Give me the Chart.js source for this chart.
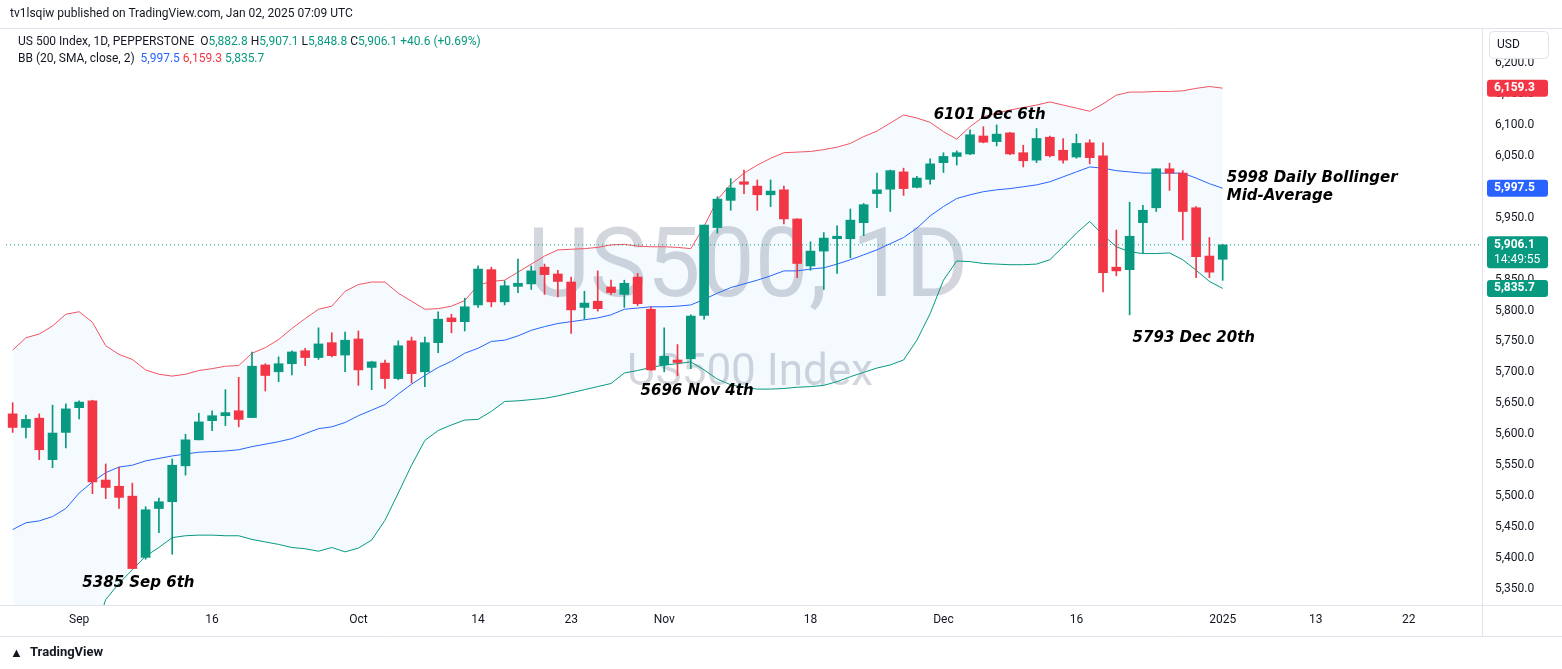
<!DOCTYPE html>
<html>
<head>
<meta charset="utf-8">
<script src="https://cdn.jsdelivr.net/npm/chart.js@4/dist/chart.umd.min.js"></script>
<style>
  body { margin: 0; background: #fff; font-family: Roboto, "Noto Sans", sans-serif; color: #131722; }
  #wrap { position: relative; width: 1562px; height: 669px; overflow: hidden; }
  canvas { position: absolute; left: 0; top: 0; }
  .txt { position: absolute; font-size: 12px; white-space: nowrap; }
  .g { color: #089981; } .r { color: #f23645; } .b { color: #2962ff; }
</style>
</head>
<body>
<div id="wrap">
  <canvas id="c" width="1562" height="669"></canvas>
  <div class="txt" style="left:10px;top:6px;">tv1lsqiw published on TradingView.com, Jan 02, 2025 07:09 UTC</div>
  <div class="txt" style="left:18px;top:34px;">US 500 Index, 1D, PEPPERSTONE&nbsp; O<span class="g">5,882.8</span> H<span class="g">5,907.1</span> L<span class="g">5,848.8</span> C<span class="g">5,906.1 +40.6 (+0.69%)</span></div>
  <div class="txt" style="left:18px;top:51px;">BB (20, SMA, close, 2)&nbsp; <span class="b">5,997.5</span> <span class="r">6,159.3</span> <span class="g">5,835.7</span></div>
  <div class="txt" style="left:30px;top:644px;font-size:13px;font-weight:bold;">TradingView</div>
  <div class="txt" style="left:10px;top:645px;font-size:13px;font-weight:900;">&#9650;</div>
</div>
<script>
// daily candles, Aug 26 2024 .. Jan 2 2025 (weekday bars, Dec 25 / Jan 1 missing)
const open = [5633,5611,5626,5559,5603,5643,5654,5526,5516,5500,5401,5480,5491,5549,5591,5622,5630,5638,5627,5712,
  5701,5714,5735,5724,5748,5728,5754,5708,5715,5690,5751,5701,5748,5788,5782,5809,5866,5814,5839,5843,
  5870,5859,5846,5805,5815,5838,5826,5854,5802,5712,5720,5722,5792,5934,5978,6008,6001,5987,5995,5948,
  5872,5896,5916,5916,5942,5989,5996,6024,5999,6012,6039,6049,6053,6082,6073,6087,6055,6043,6080,6059,
  6048,6071,6050,5870,5866,5942,5966,6029,6022,5966,5888,5882.8];
const high = [5651,5631,5633,5647,5649,5654,5655,5552,5547,5521,5483,5497,5560,5600,5634,5638,5672,5692,5733,5714,
  5725,5735,5739,5772,5764,5765,5767,5718,5720,5751,5757,5757,5798,5794,5820,5872,5870,5848,5883,5872,
  5875,5865,5854,5831,5864,5849,5849,5860,5806,5772,5745,5793,5938,5984,6013,6027,6011,6011,6001,5948,
  5911,5926,5937,5964,5973,6022,6027,6030,6017,6045,6055,6058,6092,6097,6100,6088,6067,6094,6082,6078,
  6085,6076,6071,5930,5975,5970,6029,6038,6026,5968,5918,5907.1];
const low = [5603,5594,5559,5546,5578,5625,5504,5496,5480,5383,5398,5441,5406,5534,5591,5606,5614,5612,5627,5670,
  5685,5696,5711,5721,5725,5701,5679,5672,5674,5688,5683,5677,5732,5764,5767,5805,5806,5809,5829,5834,
  5826,5822,5763,5786,5799,5826,5805,5808,5703,5701,5695,5706,5786,5925,5962,5989,5962,5968,5940,5853,
  5865,5834,5860,5885,5921,5966,5960,5986,5998,6004,6023,6035,6052,6071,6066,6052,6032,6039,6048,6038,
  6046,6037,5830,5856,5793,5893,5960,5994,5914,5853,5853,5848.8];
const close = [5611,5624,5575,5602,5641,5652,5523,5514,5498,5383,5478,5491,5550,5591,5620,5630,5635,5624,5710,5695,
  5714,5733,5724,5746,5727,5752,5704,5717,5690,5743,5698,5748,5786,5782,5806,5867,5814,5840,5844,5864,
  5858,5847,5801,5812,5803,5829,5844,5811,5704,5726,5716,5791,5938,5980,5998,6004,5987,5993,5948,5876,
  5896,5917,5920,5946,5971,5995,6026,5997,6014,6037,6049,6055,6084,6072,6085,6053,6042,6078,6050,6043,
  6070,6047,5861,5864,5920,5962,6029,6022,5960,5887,5862,5906.1];

// Bollinger Bands (20, SMA, close, 2)
const bbUpper = [5736,5756,5762,5775,5794,5798,5781,5743,5729,5721,5704,5697,5694,5697,5703,5706,5710,5711,5731,5740,5753,5771,5787,5802,
  5807,5831,5842,5846,5846,5828,5815,5802,5803,5807,5816,5841,5847,5849,5862,5875,5888,5898,5899,5900,5902,5906,5907,
  5904,5903,5903,5902,5900,5936,5979,6004,6022,6035,6046,6055,6056,6057,6060,6064,6070,6081,6090,6103,6116,6111,6104,
  6089,6077,6097,6113,6119,6124,6128,6132,6137,6132,6127,6122,6134,6148,6153,6153,6154,6154,6155,6159,6162,6159.3];
const bbBasis = [5446,5457,5460,5467,5480,5505,5523,5538,5547,5550,5557,5561,5565,5568,5571,5572,5573,5575,5580,5584,5588,5593,5601,5609,
  5612,5619,5630,5639,5648,5665,5681,5695,5708,5718,5731,5739,5750,5752,5759,5768,5774,5779,5782,5785,5788,5793,5802,
  5804,5806,5806,5807,5809,5818,5828,5837,5843,5849,5856,5864,5864,5867,5869,5875,5882,5890,5898,5908,5918,5933,5953,
  5968,5981,5987,5992,5995,5997,6000,6003,6008,6016,6024,6032,6030,6026,6024,6022,6022,6022,6022,6014,6005,5997.5];
const bbLower = [5156,5158,5158,5159,5166,5212,5265,5333,5359,5381,5403,5417,5433,5436,5437,5437,5436,5436,5430,5426,5422,5417,5415,5411,
  5417,5410,5416,5429,5461,5505,5550,5590,5606,5615,5623,5624,5637,5653,5654,5656,5658,5662,5667,5672,5677,5682,5699,
  5703,5708,5712,5714,5717,5704,5689,5680,5676,5673,5673,5674,5676,5677,5679,5685,5693,5700,5707,5712,5720,5752,5795,
  5849,5880,5879,5876,5875,5874,5874,5875,5882,5903,5925,5944,5922,5903,5895,5892,5892,5893,5882,5865,5847,5835.7];

// x axis labels (bar index -> text), 19 empty future bars on the right
const tickIdx = [5, 15, 26, 35, 42, 49, 60, 70, 80, 91, 98, 105];
const tickText = ['Sep', '16', 'Oct', '14', '23', 'Nov', '18', 'Dec', '16', '2025', '13', '22'];
const yTicks = [5350,5400,5450,5500,5550,5600,5650,5700,5750,5800,5850,5900,5950,6000,6050,6100,6150,6200];

// notes: bar index, price, text
const noteIdx = [9, 50, 74, 84];
const notePrice = [5385, 5696, 6101, 5793];
const noteText = ['5385 Sep 6th', '5696 Nov 4th', '6101 Dec 6th', '5793 Dec 20th'];

const GREEN = '#089981', RED = '#f23645';
const nBars = 111;
const labels = Array.from({length: nBars}, (_, i) => i);
const bodies = open.map((o, i) => [o, Math.abs(close[i] - o) < 0.5 ? o + 0.8 : close[i]]);
const wicks = low.map((l, i) => [l, high[i]]);
const cols = open.map((o, i) => close[i] >= o ? GREEN : RED);
const fmt = v => v.toLocaleString('en-US', {minimumFractionDigits: 1, maximumFractionDigits: 1});

const overlay = {
  id: 'overlay',
  beforeDatasetsDraw(chart) {
    const {ctx} = chart;
    ctx.save();
    ctx.fillStyle = 'rgba(150,158,172,0.42)';
    ctx.textAlign = 'center';
    ctx.textBaseline = 'middle';
    ctx.font = '96px Roboto, sans-serif';
    ctx.fillText('US500, 1D', 748, 272);
    ctx.font = '44px Roboto, sans-serif';
    ctx.fillText('US500 Index', 750, 374);
    ctx.restore();
  },
  afterDraw(chart) {
    const {ctx, chartArea: a, scales: {x, y}} = chart;
    ctx.save();
    // frame
    ctx.strokeStyle = '#e0e3eb';
    ctx.lineWidth = 1;
    ctx.beginPath();
    ctx.moveTo(0, 28.5); ctx.lineTo(1562, 28.5);
    ctx.moveTo(0, 636.5); ctx.lineTo(1562, 636.5);
    ctx.moveTo(a.right + 0.5, 28); ctx.lineTo(a.right + 0.5, 636);
    ctx.moveTo(0, a.bottom + 0.5); ctx.lineTo(1562, a.bottom + 0.5);
    ctx.stroke();
    // last price dotted line
    const yLast = y.getPixelForValue(close[close.length - 1]);
    ctx.strokeStyle = GREEN;
    ctx.setLineDash([1, 3]);
    ctx.beginPath(); ctx.moveTo(a.left, yLast); ctx.lineTo(a.right, yLast); ctx.stroke();
    ctx.setLineDash([]);
    // notes
    ctx.fillStyle = '#000';
    ctx.font = 'italic bold 15px "DejaVu Sans", sans-serif';
    ctx.textBaseline = 'middle';
    const offs = [[-50, 16], [-37, 16], [-63, -9], [3, 23]];
    noteText.forEach((t, i) => {
      ctx.fillText(t, x.getPixelForValue(noteIdx[i]) + offs[i][0], y.getPixelForValue(notePrice[i]) + offs[i][1]);
    });
    const mx = x.getPixelForValue(91) + 4, my = y.getPixelForValue(bbBasis[91]);
    ctx.fillText('5998 Daily Bollinger', mx, my - 10);
    ctx.fillText('Mid-Average', mx, my + 8);
    // price tags on the axis
    const tag = (v, bg, lines) => {
      const py = y.getPixelForValue(v);
      const h = lines.length > 1 ? 32 : 17;
      ctx.fillStyle = bg;
      ctx.beginPath();
      ctx.roundRect(a.right + 5, py - 8.5, 61, h, 3);
      ctx.fill();
      ctx.fillStyle = '#fff';
      ctx.textAlign = 'left';
      lines.forEach((s, k) => {
        ctx.font = k ? '12px Roboto, sans-serif' : 'bold 12px Roboto, sans-serif';
        ctx.fillText(s, a.right + 12, py + k * 15);
      });
    };
    tag(bbUpper[91], RED, [fmt(bbUpper[91])]);
    tag(bbBasis[91], '#2962ff', [fmt(bbBasis[91])]);
    tag(close[91], GREEN, [fmt(close[91]), '14:49:55']);
    tag(bbLower[91], GREEN, [fmt(bbLower[91])]);
    // USD button
    ctx.strokeStyle = '#e0e3eb';
    ctx.fillStyle = '#fff';
    ctx.beginPath(); ctx.roundRect(1489.5, 31.5, 59, 27, 4); ctx.fill(); ctx.stroke();
    ctx.fillStyle = '#131722';
    ctx.font = '12px Roboto, sans-serif';
    ctx.fillText('USD', 1497, 45);
    ctx.restore();
  }
};

new Chart(document.getElementById('c'), {
  type: 'bar',
  data: {
    labels: labels,
    datasets: [
      { type: 'line', data: bbUpper, borderColor: '#f7525f', borderWidth: 1, pointRadius: 0, tension: 0, order: 5 },
      { type: 'line', data: bbBasis, borderColor: '#2962ff', borderWidth: 1, pointRadius: 0, tension: 0, order: 4 },
      { type: 'line', data: bbLower, borderColor: GREEN, borderWidth: 1, pointRadius: 0, tension: 0, order: 3,
        fill: { target: 0, above: 'rgba(33,150,243,0.05)', below: 'rgba(33,150,243,0.05)' } },
      { data: wicks, backgroundColor: cols, barThickness: 1, grouped: false, order: 2 },
      { data: bodies, backgroundColor: cols, barThickness: 9, grouped: false, order: 1 }
    ]
  },
  options: {
    responsive: false,
    animation: false,
    layout: { padding: { left: 6, top: 30, bottom: 33, right: 0 } },
    plugins: { legend: { display: false }, tooltip: { enabled: false } },
    scales: {
      x: {
        grid: { display: false },
        border: { display: false },
        ticks: {
          autoSkip: false, maxRotation: 0, color: '#131722', font: { size: 12, family: 'Roboto' }, padding: 0,
          callback: (v) => { const k = tickIdx.indexOf(v); return k < 0 ? '' : tickText[k]; }
        },
        afterFit: s => { s.height = 31; }
      },
      y: {
        position: 'right',
        min: 5324.1, max: 6253.3,
        grid: { display: false, drawTicks: false },
        border: { display: false },
        afterBuildTicks: s => { s.ticks = yTicks.map(v => ({ value: v })); },
        ticks: { color: '#131722', font: { size: 12, family: 'Roboto' }, padding: 13, callback: v => fmt(v) },
        afterFit: s => { s.width = 80; }
      }
    }
  },
  plugins: [overlay]
});
</script>
</body>
</html>
